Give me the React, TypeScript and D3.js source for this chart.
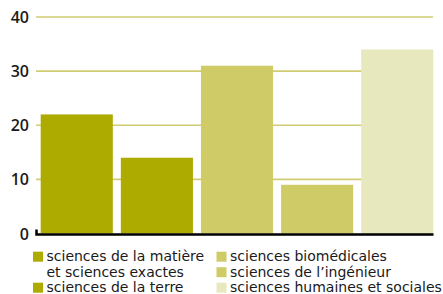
import * as d3 from "d3";
import {useEffect, useRef} from "react";

const categories = [
    "sciences de la matière et sciences exactes",
    "sciences de la terre",
    "sciences biomédicales",
    "sciences de l’ingénieur",
    "sciences humaines et sociales"
];
const values = [22, 14, 31, 9, 34];
const colors = ["#adaa00", "#adaa00", "#cfcb66", "#cfcb66", "#e8e8bf"];
const yTicks = [0, 10, 20, 30, 40];

// legend: column, row, lines
const legendLines = [
    ["sciences de la matière", "et sciences exactes"],
    ["sciences de la terre"],
    ["sciences biomédicales"],
    ["sciences de l’ingénieur"],
    ["sciences humaines et sociales"]
];
const legendPos = [[0, 0], [0, 2], [1, 0], [1, 1], [1, 2]];

export default function App() {
    const svgRef = useRef(null);
    const width = 443, height = 294;

    useEffect(() => {
        if (!svgRef.current) return;
        const svg = d3.select(svgRef.current);
        svg.selectAll("*").remove();

        const x = d3.scaleBand()
            .domain(categories)
            .range([40.7, 433.3])
            .paddingInner(0.1)
            .paddingOuter(0);

        const y = d3.scaleLinear()
            .domain([0, 40])
            .range([233.5, 17]);

        // gridlines
        svg.append("g")
            .selectAll("line")
            .data(yTicks.filter(d => d > 0))
            .join("line")
            .attr("x1", 36)
            .attr("x2", 433)
            .attr("y1", d => y(d))
            .attr("y2", d => y(d))
            .attr("stroke", "#d0cd72")
            .attr("stroke-width", 1.6);

        // tick labels
        svg.append("g")
            .selectAll("text")
            .data(yTicks)
            .join("text")
            .attr("x", 29)
            .attr("y", d => y(d) + 6)
            .attr("text-anchor", "end")
            .attr("font-family", "'Open Sans', sans-serif")
            .attr("font-weight", 600)
            .attr("font-size", 16)
            .attr("fill", "#1a1a1a")
            .text(d => d);

        // bars
        svg.append("g")
            .selectAll("rect")
            .data(values)
            .join("rect")
            .attr("x", (_, i) => x(categories[i])!)
            .attr("width", x.bandwidth())
            .attr("y", d => y(d))
            .attr("height", d => y(0) - y(d))
            .attr("fill", (_, i) => colors[i]);

        // axis line with small hook on the left
        svg.append("path")
            .attr("d", `M36.5,${y(0) - 4}V${y(0) + 1}H433.5`)
            .attr("fill", "none")
            .attr("stroke", "#000")
            .attr("stroke-width", 2.5);

        // legend
        const colX = [33, 216.5];
        const rowY = [256.5, 272, 287.5];
        const leg = svg.append("g");
        legendLines.forEach((lines, i) => {
            const [c, r] = legendPos[i];
            leg.append("rect")
                .attr("x", colX[c])
                .attr("y", rowY[r] - 4.8)
                .attr("width", 10)
                .attr("height", 10)
                .attr("fill", colors[i]);
            lines.forEach((t, j) => {
                leg.append("text")
                    .attr("x", colX[c] + 13.5)
                    .attr("y", rowY[r + j] + 4.5)
                    .attr("font-family", "'DejaVu Sans', sans-serif")
                    .attr("font-size", 14)
                    .attr("fill", "#1a1a1a")
                    .text(t);
            });
        });
    }, []);

    return (
        <svg ref={svgRef} width={width} height={height}
             style={{position: "absolute", left: 0, top: 0}}></svg>
    );
}
